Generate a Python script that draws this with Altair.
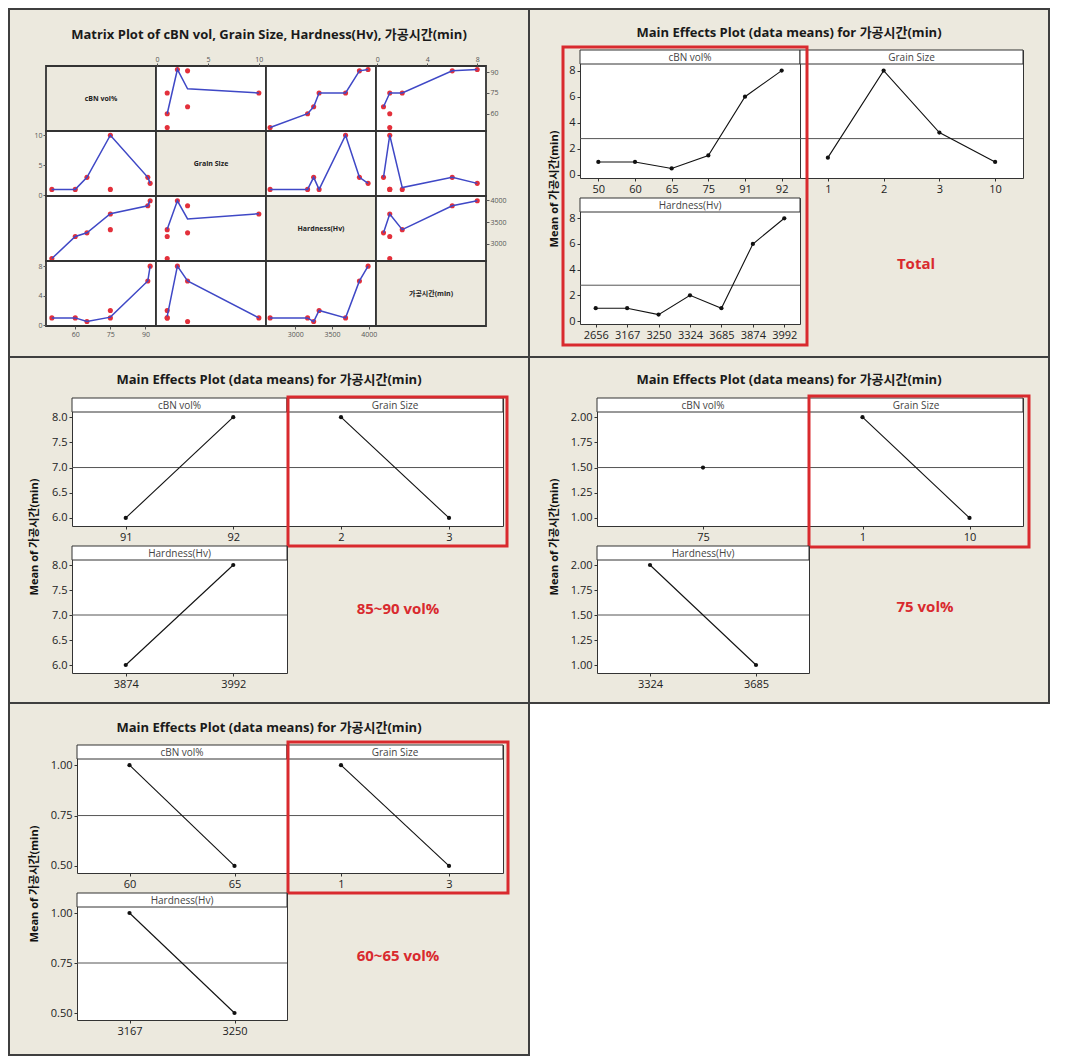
import altair as alt
import pandas as pd

FONT = "Open Sans, Noto Sans CJK KR, sans-serif"
BG = "#ECE9DE"
SEP = "#3f3f3f"
FRAME = "#333333"
RED = "#d92a2e"
PT_RED = "#e3303b"
LN_BLUE = "#3f48c6"
PW = 518

# ---------------- raw runs (7 samples) ----------------
CBN = [50, 60, 65, 75, 75, 91, 92]
GRAIN = [1, 1, 3, 1, 10, 3, 2]
HV = [2656, 3167, 3250, 3324, 3685, 3874, 3992]
TIME = [1, 1, 0.5, 2, 1, 6, 8]

VAR_LABELS = ["cBN vol%", "Grain Size", "Hardness(Hv)", "가공시간(min)"]
VAR_DOMAINS = [[47.5, 94.5], [-0.1, 10.7], [2600, 4100], [-0.1, 8.7]]
VAR_TICKS = [[60, 75, 90], [0, 5, 10], [3000, 3500, 4000], [0, 4, 8]]

# smoother lines read from the matrix cells: (x values, y values), named Y_X
FIT_CBN_GRAIN = ([1, 2, 3, 10], [60, 92, 78, 75])
FIT_CBN_HV = ([2656, 3167, 3250, 3324, 3685, 3874, 3992], [50, 60, 65, 75, 75, 91, 92])
FIT_CBN_TIME = ([0.5, 1, 2, 6, 8], [65, 75, 75, 91, 92])
FIT_GRAIN_CBN = ([50, 60, 65, 75, 91, 92], [1, 1, 3, 10, 3, 2])
FIT_GRAIN_HV = ([2656, 3167, 3250, 3324, 3685, 3874, 3992], [1, 1, 3, 1, 10, 3, 2])
FIT_GRAIN_TIME = ([0.5, 1, 2, 6, 8], [3, 10, 1.3, 3, 2])
FIT_HV_CBN = ([50, 60, 65, 75, 91, 92], [2656, 3167, 3250, 3690, 3874, 3992])
FIT_HV_GRAIN = ([1, 2, 3, 10], [3330, 3990, 3570, 3690])
FIT_HV_TIME = ([0.5, 1, 2, 6, 8], [3250, 3685, 3324, 3874, 3992])
FIT_TIME_CBN = ([50, 60, 65, 75, 91, 92], [1, 1, 0.5, 1.1, 6, 8])
FIT_TIME_GRAIN = ([1, 2, 3, 10], [1.2, 8, 6, 1])
FIT_TIME_HV = ([2656, 3167, 3250, 3324, 3685, 3874, 3992], [1, 1, 0.5, 2, 1, 6, 8])

# ---------------- main effects: Total ----------------
TOT_CBN_LV = [50, 60, 65, 75, 91, 92]
TOT_CBN_MEAN = [1, 1, 0.5, 1.5, 6, 8]
TOT_GRAIN_LV = [1, 2, 3, 10]
TOT_GRAIN_MEAN = [1.33, 8, 3.25, 1]
TOT_HV_LV = [2656, 3167, 3250, 3324, 3685, 3874, 3992]
TOT_HV_MEAN = [1, 1, 0.5, 2, 1, 6, 8]
TOT_GRAND = 2.79
TOT_YDOM = [-0.23, 9.58]
TOT_YTICKS = [0, 2, 4, 6, 8]

# ---------------- 85~90 vol% ----------------
HI_CBN_LV = [91, 92]
HI_CBN_MEAN = [6, 8]
HI_GRAIN_LV = [2, 3]
HI_GRAIN_MEAN = [8, 6]
HI_HV_LV = [3874, 3992]
HI_HV_MEAN = [6, 8]
HI_GRAND = 7.0
HI_YDOM = [5.84, 8.38]
HI_YTICKS = [6.0, 6.5, 7.0, 7.5, 8.0]

# ---------------- 75 vol% ----------------
MID_CBN_LV = [75]
MID_CBN_MEAN = [1.5]
MID_GRAIN_LV = [1, 10]
MID_GRAIN_MEAN = [2, 1]
MID_HV_LV = [3324, 3685]
MID_HV_MEAN = [2, 1]
MID_GRAND = 1.5
MID_YDOM = [0.92, 2.19]
MID_YTICKS = [1.0, 1.25, 1.5, 1.75, 2.0]

# ---------------- 60~65 vol% ----------------
LO_CBN_LV = [60, 65]
LO_CBN_MEAN = [1, 0.5]
LO_GRAIN_LV = [1, 3]
LO_GRAIN_MEAN = [1, 0.5]
LO_HV_LV = [3167, 3250]
LO_HV_MEAN = [1, 0.5]
LO_GRAND = 0.75
LO_YDOM = [0.465, 1.1]
LO_YTICKS = [0.5, 0.75, 1.0]

MATRIX_TITLE = "Matrix Plot of cBN vol, Grain Size, Hardness(Hv), 가공시간(min)"
ME_TITLE = "Main Effects Plot (data means) for 가공시간(min)"
Y_TITLE = "Mean of 가공시간(min)"

ONE = pd.DataFrame({"k": [0]})


def block(w, h, color, opacity=1.0):
    return (alt.Chart(ONE).mark_rect(color=color, opacity=opacity)
            .encode(x=alt.value(0), x2=alt.value(w), y=alt.value(0), y2=alt.value(h))
            .properties(width=w, height=h))


def spacer(w, h):
    return block(w, h, BG, 0.0)


def label_cell(text, w, h, x, y, size, weight, color, angle=0):
    kw = dict(text=text, font=FONT, fontSize=size, fontWeight=weight, color=color,
              align="center", baseline="middle")
    if angle:
        kw["angle"] = angle
    return (alt.Chart(ONE).mark_text(**kw)
            .encode(x=alt.value(x), y=alt.value(y))
            .properties(width=w, height=h))


# ---------------- matrix plot ----------------
SAMPLES = [CBN, GRAIN, HV, TIME]
FITS = {(0, 1): FIT_CBN_GRAIN, (0, 2): FIT_CBN_HV, (0, 3): FIT_CBN_TIME,
        (1, 0): FIT_GRAIN_CBN, (1, 2): FIT_GRAIN_HV, (1, 3): FIT_GRAIN_TIME,
        (2, 0): FIT_HV_CBN, (2, 1): FIT_HV_GRAIN, (2, 3): FIT_HV_TIME,
        (3, 0): FIT_TIME_CBN, (3, 1): FIT_TIME_GRAIN, (3, 2): FIT_TIME_HV}
X_ORIENT = {(0, 1): "top", (0, 3): "top", (3, 0): "bottom", (3, 2): "bottom"}
Y_ORIENT = {(1, 0): "left", (3, 0): "left", (0, 3): "right", (2, 3): "right"}
CW, CH = 110, 65


def mat_axis(orient, ticks):
    return alt.Axis(orient=orient, values=ticks, title=None, format="d", labelFontSize=7,
                    labelColor="#555", tickColor="#555", tickSize=3, domain=False,
                    grid=False, labelPadding=1, labelFont=FONT)


def matrix_cell(i, j):
    if i == j:
        return (alt.Chart(ONE)
                .mark_text(text=VAR_LABELS[i], font=FONT, fontSize=7, fontWeight="bold",
                           color="#222", align="center", baseline="middle")
                .encode(x=alt.value(CW / 2), y=alt.value(CH / 2))
                .properties(width=CW, height=CH,
                            view=alt.ViewBackground(fill=BG, stroke=FRAME, strokeWidth=1.8)))
    ax_x = mat_axis(X_ORIENT[(i, j)], VAR_TICKS[j]) if (i, j) in X_ORIENT else None
    ax_y = mat_axis(Y_ORIENT[(i, j)], VAR_TICKS[i]) if (i, j) in Y_ORIENT else None
    xenc = alt.X("x:Q", scale=alt.Scale(domain=VAR_DOMAINS[j], nice=False, zero=False), axis=ax_x)
    yenc = alt.Y("y:Q", scale=alt.Scale(domain=VAR_DOMAINS[i], nice=False, zero=False), axis=ax_y)
    pts = (alt.Chart(pd.DataFrame({"x": SAMPLES[j], "y": SAMPLES[i]}))
           .mark_circle(color=PT_RED, size=26, opacity=1).encode(x=xenc, y=yenc))
    fx, fy = FITS[(i, j)]
    ln = (alt.Chart(pd.DataFrame({"x": fx, "y": fy}))
          .mark_line(color=LN_BLUE, strokeWidth=1.5).encode(x=xenc, y=yenc))
    return alt.layer(pts, ln).properties(
        width=CW, height=CH, view=alt.ViewBackground(fill="white", stroke=FRAME, strokeWidth=1.8))


def matrix_panel():
    cells = [label_cell(MATRIX_TITLE, 36, 56, PW / 2, 25, 13, "bold", "#1a1a1a")]
    cells += [spacer(1, 1) for _ in range(4)] + [spacer(PW - 36 - 4 * CW, 1)]
    for i in range(4):
        cells.append(spacer(1, 1))
        for j in range(4):
            cells.append(matrix_cell(i, j))
        cells.append(spacer(1, 1))
    return alt.concat(*cells, columns=6, spacing=0, bounds="flush")


# ---------------- main effects panels ----------------
def me_sub(levels, means, label, w, h, ydom, yticks, yfmt, grand, show_y, box=None):
    lv = [str(v) for v in levels]
    df = pd.DataFrame({"lvl": lv, "val": means})
    xenc = alt.X("lvl:O", sort=lv, scale=alt.Scale(type="point", padding=0.5),
                 axis=alt.Axis(title=None, labelAngle=0, labelFontSize=11, labelColor="#222",
                               tickSize=3, tickColor="#333", domain=False, grid=False,
                               labelPadding=2, labelFont=FONT))
    yax = None
    if show_y:
        yax = alt.Axis(title=None, values=yticks, format=yfmt, labelFontSize=11,
                       labelColor="#222", tickSize=3, tickColor="#333", domain=False,
                       grid=False, labelPadding=2, labelFont=FONT)
    yenc = alt.Y("val:Q", scale=alt.Scale(domain=ydom, nice=False, zero=False), axis=yax)
    rule = (alt.Chart(pd.DataFrame({"val": [grand]}))
            .mark_rule(color="#555", strokeWidth=1).encode(y=yenc))
    line = alt.Chart(df).mark_line(color="#111", strokeWidth=1.1).encode(x=xenc, y=yenc)
    pts = alt.Chart(df).mark_circle(color="#111", size=18, opacity=1).encode(x=xenc, y=yenc)
    hdr = (alt.Chart(ONE).mark_rect(fill="white", stroke=FRAME, strokeWidth=1)
           .encode(x=alt.value(0), x2=alt.value(w), y=alt.value(0), y2=alt.value(14)))
    hdrt = (alt.Chart(ONE).mark_text(text=label, font=FONT, fontSize=10, color="#444",
                                     align="center", baseline="middle")
            .encode(x=alt.value(w / 2), y=alt.value(7.5)))
    layers = [rule, line, pts, hdr, hdrt]
    if box is not None:
        layers.append(alt.Chart(ONE).mark_rect(fillOpacity=0, stroke=RED, strokeWidth=3)
                      .encode(x=alt.value(box[0]), x2=alt.value(box[1]),
                              y=alt.value(box[2]), y2=alt.value(box[3])))
    return alt.layer(*layers).properties(
        width=w, height=h, view=alt.ViewBackground(fill="white", stroke=FRAME, strokeWidth=1))


def me_panel(ydom, yticks, yfmt, grand, cbn, grain, hv, note, L, w1, w2, h1, h2, TH, ty,
             box_host, box, note_xy):
    pad = PW - L - w1 - w2
    s_cbn = me_sub(cbn[0], cbn[1], "cBN vol%", w1, h1, ydom, yticks, yfmt, grand, True)
    s_grain = me_sub(grain[0], grain[1], "Grain Size", w2, h1, ydom, yticks, yfmt, grand, False,
                     box if box_host == "grain" else None)
    s_hv = me_sub(hv[0], hv[1], "Hardness(Hv)", w1, h2, ydom, yticks, yfmt, grand, True,
                  box if box_host == "hv" else None)
    txt = label_cell(note, w2, h2, note_xy[0], note_xy[1], 15, "bold", RED)
    cells = [
        label_cell(ME_TITLE, L, TH, PW / 2, ty, 13, "bold", "#1a1a1a"),
        spacer(1, 1), spacer(1, 1), spacer(pad, 1),
        label_cell(Y_TITLE, L, 1, 25, 139, 11, "bold", "#111", angle=270),
        s_cbn, s_grain, spacer(1, 1),
        spacer(1, 20), spacer(1, 1), spacer(1, 1), spacer(1, 1),
        spacer(1, 1), s_hv, txt, spacer(1, 1),
    ]
    return alt.concat(*cells, columns=4, spacing=0, bounds="flush")


panel_a = matrix_panel()
panel_b = me_panel(TOT_YDOM, TOT_YTICKS, ".0f", TOT_GRAND,
                   (TOT_CBN_LV, TOT_CBN_MEAN), (TOT_GRAIN_LV, TOT_GRAIN_MEAN), (TOT_HV_LV, TOT_HV_MEAN),
                   "Total", L=50, w1=220, w2=223, h1=128, h2=126, TH=40, ty=23,
                   box_host="hv", box=(-17, 227, -151, 147), note_xy=(116, 66))
panel_c = me_panel(HI_YDOM, HI_YTICKS, ".1f", HI_GRAND,
                   (HI_CBN_LV, HI_CBN_MEAN), (HI_GRAIN_LV, HI_GRAIN_MEAN), (HI_HV_LV, HI_HV_MEAN),
                   "85~90 vol%", L=62, w1=215, w2=216, h1=128, h2=127, TH=40, ty=22,
                   box_host="grain", box=(1, 220, -1, 148), note_xy=(111, 63))
panel_d = me_panel(MID_YDOM, MID_YTICKS, ".2f", MID_GRAND,
                   (MID_CBN_LV, MID_CBN_MEAN), (MID_GRAIN_LV, MID_GRAIN_MEAN), (MID_HV_LV, MID_HV_MEAN),
                   "75 vol%", L=67, w1=212, w2=214, h1=128, h2=127, TH=40, ty=22,
                   box_host="grain", box=(0, 220, -2, 149), note_xy=(116, 61))
panel_e = me_panel(LO_YDOM, LO_YTICKS, ".2f", LO_GRAND,
                   (LO_CBN_LV, LO_CBN_MEAN), (LO_GRAIN_LV, LO_GRAIN_MEAN), (LO_HV_LV, LO_HV_MEAN),
                   "60~65 vol%", L=67, w1=210, w2=216, h1=128, h2=127, TH=41, ty=24,
                   box_host="grain", box=(1, 221, -3, 148), note_xy=(111, 63))

TOTAL_W = 2 + PW + 2 + PW + 2
R1, R2, R3 = 346, 344, 350

row1 = alt.hconcat(block(2, R1, SEP), panel_a, block(2, R1, SEP), panel_b, block(2, R1, SEP), spacing=0)
row2 = alt.hconcat(block(2, R2, SEP), panel_c, block(2, R2, SEP), panel_d, block(2, R2, SEP), spacing=0)
row3 = alt.hconcat(
    alt.vconcat(alt.hconcat(block(2, R3, SEP), panel_e, block(2, R3, SEP), spacing=0),
                block(PW + 4, 2, SEP), spacing=0),
    block(PW + 2, R3 + 2, "white"),
    spacing=0)

chart = (alt.vconcat(block(TOTAL_W, 2, SEP), row1, block(TOTAL_W, 2, SEP), row2,
                     block(TOTAL_W, 2, SEP), row3, spacing=0)
         .properties(padding=0, background=BG)
         .configure(font=FONT)
         .configure_view(strokeWidth=0))

chart.save("out.html", embed_options={"renderer": "svg", "actions": False})
